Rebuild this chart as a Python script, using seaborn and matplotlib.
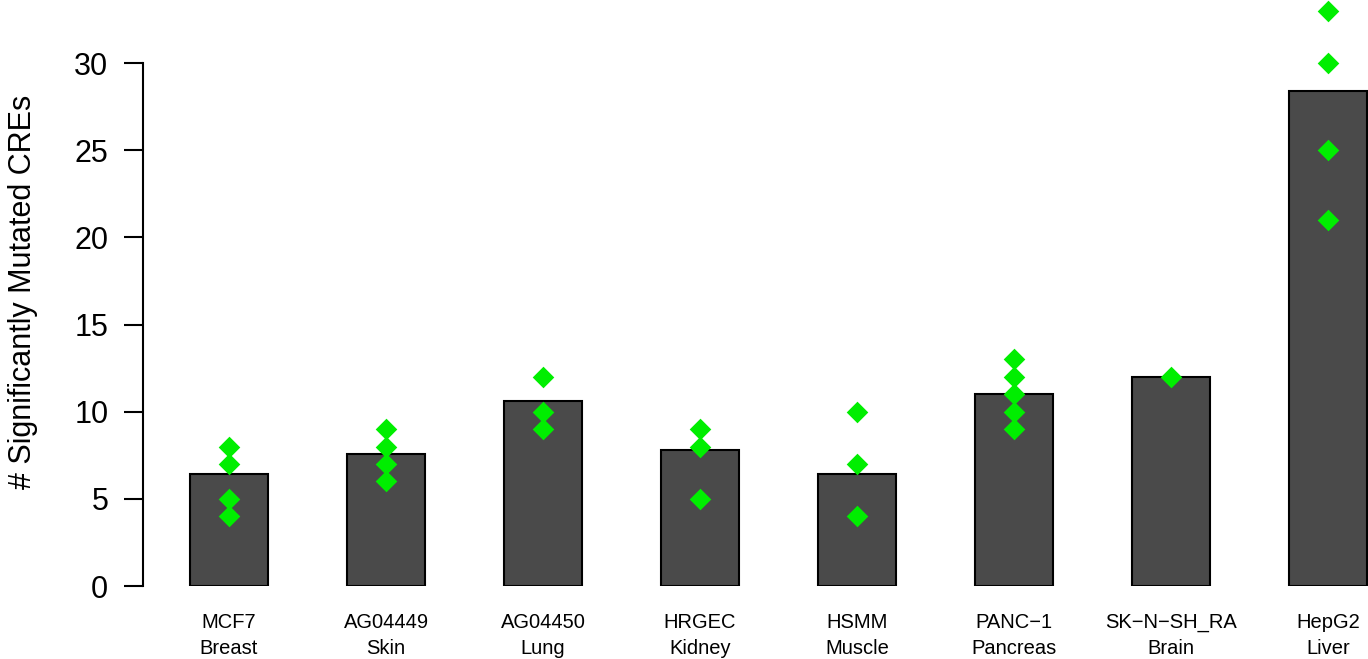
import matplotlib
matplotlib.use("Agg")
import matplotlib.pyplot as plt
import seaborn as sns
import pandas as pd

# ---- data ----
cell_lines = ["MCF7", "AG04449", "AG04450", "HRGEC", "HSMM", "PANC\u22121", "SK\u2212N\u2212SH_RA", "HepG2"]
tissues = ["Breast", "Skin", "Lung", "Kidney", "Muscle", "Pancreas", "Brain", "Liver"]
bar_values = [6.4, 7.6, 10.6, 7.8, 6.4, 11.0, 12.0, 28.4]
point_values = [
    [8, 7, 5, 4],
    [9, 8, 7, 6],
    [12, 10, 9],
    [9, 8, 5],
    [10, 7, 4],
    [13, 12, 11, 10, 9],
    [12],
    [33, 30, 25, 21],
]
y_ticks = [0, 5, 10, 15, 20, 25, 30]
y_label = "# Significantly Mutated CREs"

labels = [f"{c}\n{t}" for c, t in zip(cell_lines, tissues)]
bars_df = pd.DataFrame({"label": labels, "value": bar_values})
pts_df = pd.DataFrame(
    [(lab, v) for lab, vals in zip(labels, point_values) for v in vals],
    columns=["label", "value"],
)

sns.set_style("white")
plt.rcParams["font.family"] = ["Liberation Sans", "DejaVu Sans"]
plt.rcParams["text.color"] = "black"
plt.rcParams["xtick.color"] = "black"
plt.rcParams["ytick.color"] = "black"

W, H = 1368, 659
fig = plt.figure(figsize=(W / 100, H / 100), dpi=100)
ax = fig.add_axes([143 / W, (H - 586) / H, (W - 143) / W, 586 / H])

sns.barplot(data=bars_df, x="label", y="value", order=labels, color="#4a4a4a",
            saturation=1, width=0.5, edgecolor="black", linewidth=1.5,
            errorbar=None, ax=ax, zorder=2)
sns.stripplot(data=pts_df, x="label", y="value", order=labels, jitter=False,
              color="#00ee00", marker="D", size=11, linewidth=0, ax=ax, zorder=3)

ax.set_xlim(-0.548, 7.255)
ax.set_ylim(0, 33.62)
ax.set_yticks(y_ticks)
ax.set_yticklabels([str(t) for t in y_ticks], fontsize=22)
ax.tick_params(axis="y", length=14, width=1.5, pad=11, colors="black", left=True)
ax.tick_params(axis="x", length=0, pad=19.5, labelsize=14.5, colors="black")
for lab in ax.get_xticklabels():
    lab.set_linespacing(1.45)
ax.set_xlabel("")
ax.set_ylabel("")
for s in ["top", "right", "bottom"]:
    ax.spines[s].set_visible(False)
ax.spines["left"].set_bounds(0, 30)
ax.spines["left"].set_linewidth(1.5)
ax.spines["left"].set_color("black")
ax.patch.set_alpha(0)

fig.text(23 / W, 1 - 292 / H, y_label, rotation=90, ha="center", va="center",
         fontsize=22, color="black")

fig.savefig("out.png", dpi=100)
